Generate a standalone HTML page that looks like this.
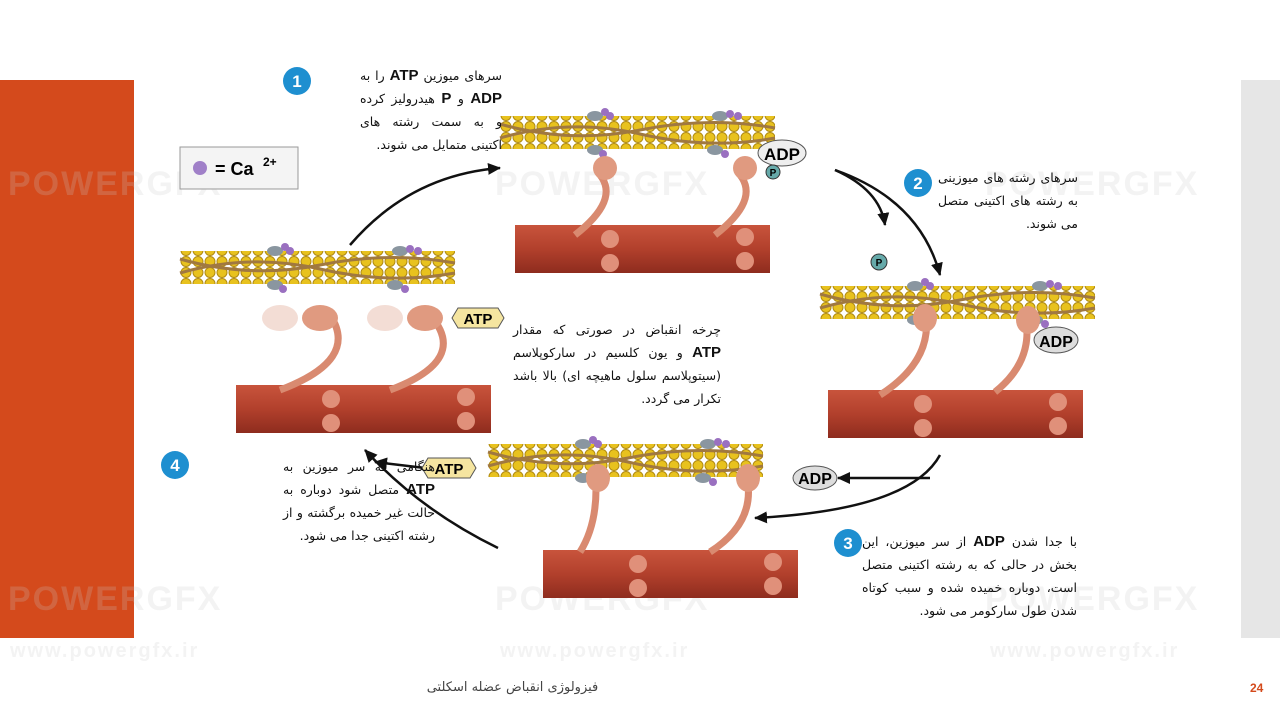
<!DOCTYPE html>
<html><head><meta charset="utf-8"><style>
body{margin:0;width:1280px;height:720px;background:#fff;overflow:hidden;position:relative;font-family:"Liberation Sans","Noto Sans CJK SC",sans-serif}
.t{position:absolute;direction:rtl;text-align:justify;font-size:12.5px;line-height:23px;color:#111;font-family:"DejaVu Sans","Liberation Sans",sans-serif}
.t b{font-family:"Liberation Sans",sans-serif;font-size:15px}
.wm{position:absolute;color:rgba(200,200,200,0.22);font-size:34px;font-weight:bold;letter-spacing:2px;font-family:"Liberation Sans",sans-serif}
</style></head><body>
<div style="position:absolute;left:0;top:80px;width:134px;height:558px;background:#D44A1C"></div>
<div style="position:absolute;left:1241px;top:80px;width:39px;height:558px;background:#e6e6e6"></div>
<div class="wm" style="left:8px;top:165px">POWERGFX</div>
<div class="wm" style="left:495px;top:165px">POWERGFX</div>
<div class="wm" style="left:985px;top:165px">POWERGFX</div>
<div class="wm" style="left:8px;top:580px">POWERGFX</div>
<div class="wm" style="left:495px;top:580px">POWERGFX</div>
<div class="wm" style="left:985px;top:580px">POWERGFX</div>
<div class="wm" style="left:10px;top:640px;font-size:20px">www.powergfx.ir</div>
<div class="wm" style="left:500px;top:640px;font-size:20px">www.powergfx.ir</div>
<div class="wm" style="left:990px;top:640px;font-size:20px">www.powergfx.ir</div>
<svg width="1280" height="720" style="position:absolute;left:0;top:0">
<defs>
<pattern id="beads" width="12" height="11" patternUnits="userSpaceOnUse"><circle cx="6" cy="5.5" r="5" fill="#e8c21e" stroke="#b08a10" stroke-width="1"/></pattern>
<linearGradient id="red" x1="0" y1="0" x2="0" y2="1"><stop offset="0" stop-color="#c8543c"/><stop offset=".5" stop-color="#b2402c"/><stop offset="1" stop-color="#8e2c1e"/></linearGradient>
<g id="actin"><rect x="0" y="6" width="275" height="33" fill="url(#beads)"/><path d="M0 14 Q70 34 140 20 T275 18 M0 28 Q70 8 140 24 T275 28" stroke="#a07840" stroke-width="3" fill="none"/>
<ellipse cx="95" cy="6" rx="8" ry="5" fill="#8a96a0"/><circle cx="105" cy="2" r="4" fill="#9a70c0"/><circle cx="110" cy="6" r="4" fill="#9a70c0"/>
<ellipse cx="95" cy="40" rx="8" ry="5" fill="#8a96a0"/><circle cx="103" cy="44" r="4" fill="#9a70c0"/>
<ellipse cx="220" cy="6" rx="8" ry="5" fill="#8a96a0"/><circle cx="230" cy="4" r="4" fill="#9a70c0"/><circle cx="238" cy="6" r="4" fill="#9a70c0"/>
<ellipse cx="215" cy="40" rx="8" ry="5" fill="#8a96a0"/><circle cx="225" cy="44" r="4" fill="#9a70c0"/></g>
<g id="thick"><rect x="0" y="0" width="255" height="48" fill="url(#red)"/><circle cx="95" cy="14" r="9" fill="#e0907a"/><circle cx="95" cy="38" r="9" fill="#e0907a"/><circle cx="230" cy="12" r="9" fill="#e0907a"/><circle cx="230" cy="36" r="9" fill="#e0907a"/></g>
<marker id="ar" markerUnits="userSpaceOnUse" markerWidth="14" markerHeight="14" refX="12" refY="7" orient="auto"><path d="M0 1L13 7L0 13z" fill="#111"/></marker>
</defs>
<use href="#actin" x="500" y="110"/><use href="#thick" x="515" y="225"/>
<path d="M575 235 Q620 200 600 175" stroke="#d98a70" stroke-width="7" fill="none"/><ellipse cx="605" cy="168" rx="12" ry="12" fill="#e09a80"/>
<path d="M715 235 Q760 200 740 175" stroke="#d98a70" stroke-width="7" fill="none"/><ellipse cx="745" cy="168" rx="12" ry="12" fill="#e09a80"/>
<use href="#actin" x="820" y="280"/><use href="#thick" x="828" y="390"/>
<path d="M880 395 Q935 360 925 310" stroke="#d98a70" stroke-width="7" fill="none"/><ellipse cx="925" cy="318" rx="12" ry="14" fill="#e09a80"/>
<path d="M995 392 Q1035 360 1025 315" stroke="#d98a70" stroke-width="7" fill="none"/><ellipse cx="1028" cy="320" rx="12" ry="14" fill="#e09a80"/>
<use href="#actin" x="488" y="438"/><use href="#thick" x="543" y="550"/>
<path d="M580 552 Q600 520 595 470" stroke="#d98a70" stroke-width="7" fill="none"/><ellipse cx="598" cy="478" rx="12" ry="14" fill="#e09a80"/>
<path d="M710 552 Q760 520 745 470" stroke="#d98a70" stroke-width="7" fill="none"/><ellipse cx="748" cy="478" rx="12" ry="14" fill="#e09a80"/>
<use href="#actin" x="180" y="245"/><use href="#thick" x="236" y="385"/>
<path d="M280 390 Q360 360 330 315" stroke="#d98a70" stroke-width="7" fill="none"/><ellipse cx="320" cy="318" rx="18" ry="13" fill="#e09a80"/><ellipse cx="280" cy="318" rx="18" ry="13" fill="#f3ddd5"/>
<path d="M390 390 Q470 360 430 315" stroke="#d98a70" stroke-width="7" fill="none"/><ellipse cx="425" cy="318" rx="18" ry="13" fill="#e09a80"/><ellipse cx="385" cy="318" rx="18" ry="13" fill="#f3ddd5"/>
<g stroke="#111" stroke-width="2.5" fill="none" marker-end="url(#ar)">
<path d="M350 245 Q410 175 500 168"/>
<path d="M835 170 Q920 200 940 275"/>
<path d="M835 170 Q880 190 885 225"/>
<path d="M940 455 Q910 510 755 518"/>
<path d="M930 478 L838 478"/>
<path d="M498 548 Q420 510 365 450"/>
<path d="M425 468 L375 462"/>
</g>
<g font-family="Liberation Sans" font-weight="bold">
<ellipse cx="782" cy="153" rx="24" ry="13" fill="#eee" stroke="#555"/><text x="782" y="160" font-size="17" text-anchor="middle">ADP</text>
<circle cx="773" cy="172" r="7" fill="#6aa" stroke="#333"/><text x="773" y="176" font-size="10" text-anchor="middle">P</text>
<circle cx="879" cy="262" r="8" fill="#6aa" stroke="#333"/><text x="879" y="266" font-size="10" text-anchor="middle">P</text>
<ellipse cx="1056" cy="340" rx="22" ry="13" fill="#ddd" stroke="#555"/><text x="1056" y="347" font-size="16" text-anchor="middle">ADP</text>
<ellipse cx="815" cy="478" rx="22" ry="12" fill="#ddd" stroke="#555"/><text x="815" y="484" font-size="16" text-anchor="middle">ADP</text>
<polygon points="428,458 470,458 476,468 470,478 428,478 422,468" fill="#f5e5a0" stroke="#555"/><text x="449" y="474" font-size="15" text-anchor="middle">ATP</text>
<polygon points="458,308 498,308 504,318 498,328 458,328 452,318" fill="#f5e5a0" stroke="#555"/><text x="478" y="324" font-size="15" text-anchor="middle">ATP</text>
<rect x="180" y="147" width="118" height="42" fill="#f4f4f4" stroke="#999"/><circle cx="200" cy="168" r="7" fill="#a080c8"/><text x="215" y="175" font-size="18">= Ca</text><text x="263" y="166" font-size="12">2+</text>
</g>
<g font-family="Liberation Sans" font-weight="bold" fill="#fff" font-size="17" text-anchor="middle">
<circle cx="297" cy="81" r="14" fill="#1E8FD0"/><text x="297" y="87">1</text>
<circle cx="918" cy="183" r="14" fill="#1E8FD0"/><text x="918" y="189">2</text>
<circle cx="848" cy="543" r="14" fill="#1E8FD0"/><text x="848" y="549">3</text>
<circle cx="175" cy="465" r="14" fill="#1E8FD0"/><text x="175" y="471">4</text>
</g>
</svg>
<div class="t" style="left:360px;top:64px;width:142px">سرهای میوزین <b>ATP</b> را به <b>ADP</b> و <b>P</b> هیدرولیز کرده و به سمت رشته های اکتینی متمایل می شوند.</div>
<div class="t" style="left:938px;top:166px;width:140px">سرهای رشته های میوزینی به رشته های اکتینی متصل می شوند.</div>
<div class="t" style="left:513px;top:318px;width:208px">چرخه انقباض در صورتی که مقدار <b>ATP</b> و یون کلسیم در سارکوپلاسم (سیتوپلاسم سلول ماهیچه ای) بالا باشد تکرار می گردد.</div>
<div class="t" style="left:283px;top:455px;width:152px">هنگامی که سر میوزین به <b>ATP</b> متصل شود دوباره به حالت غیر خمیده برگشته و از رشته اکتینی جدا می شود.</div>
<div class="t" style="left:862px;top:530px;width:215px">با جدا شدن <b>ADP</b> از سر میوزین، این بخش در حالی که به رشته اکتینی متصل است، دوباره خمیده شده و سبب کوتاه شدن طول سارکومر می شود.</div>
<div style="position:absolute;left:400px;top:680px;width:225px;text-align:center;font-size:13px;color:#444;font-family:'DejaVu Sans',sans-serif;direction:rtl">فیزولوژی انقباض عضله اسکلتی</div>
<div style="position:absolute;left:1250px;top:681px;font-size:12px;font-weight:bold;color:#D44A1C">24</div>
</body></html>
